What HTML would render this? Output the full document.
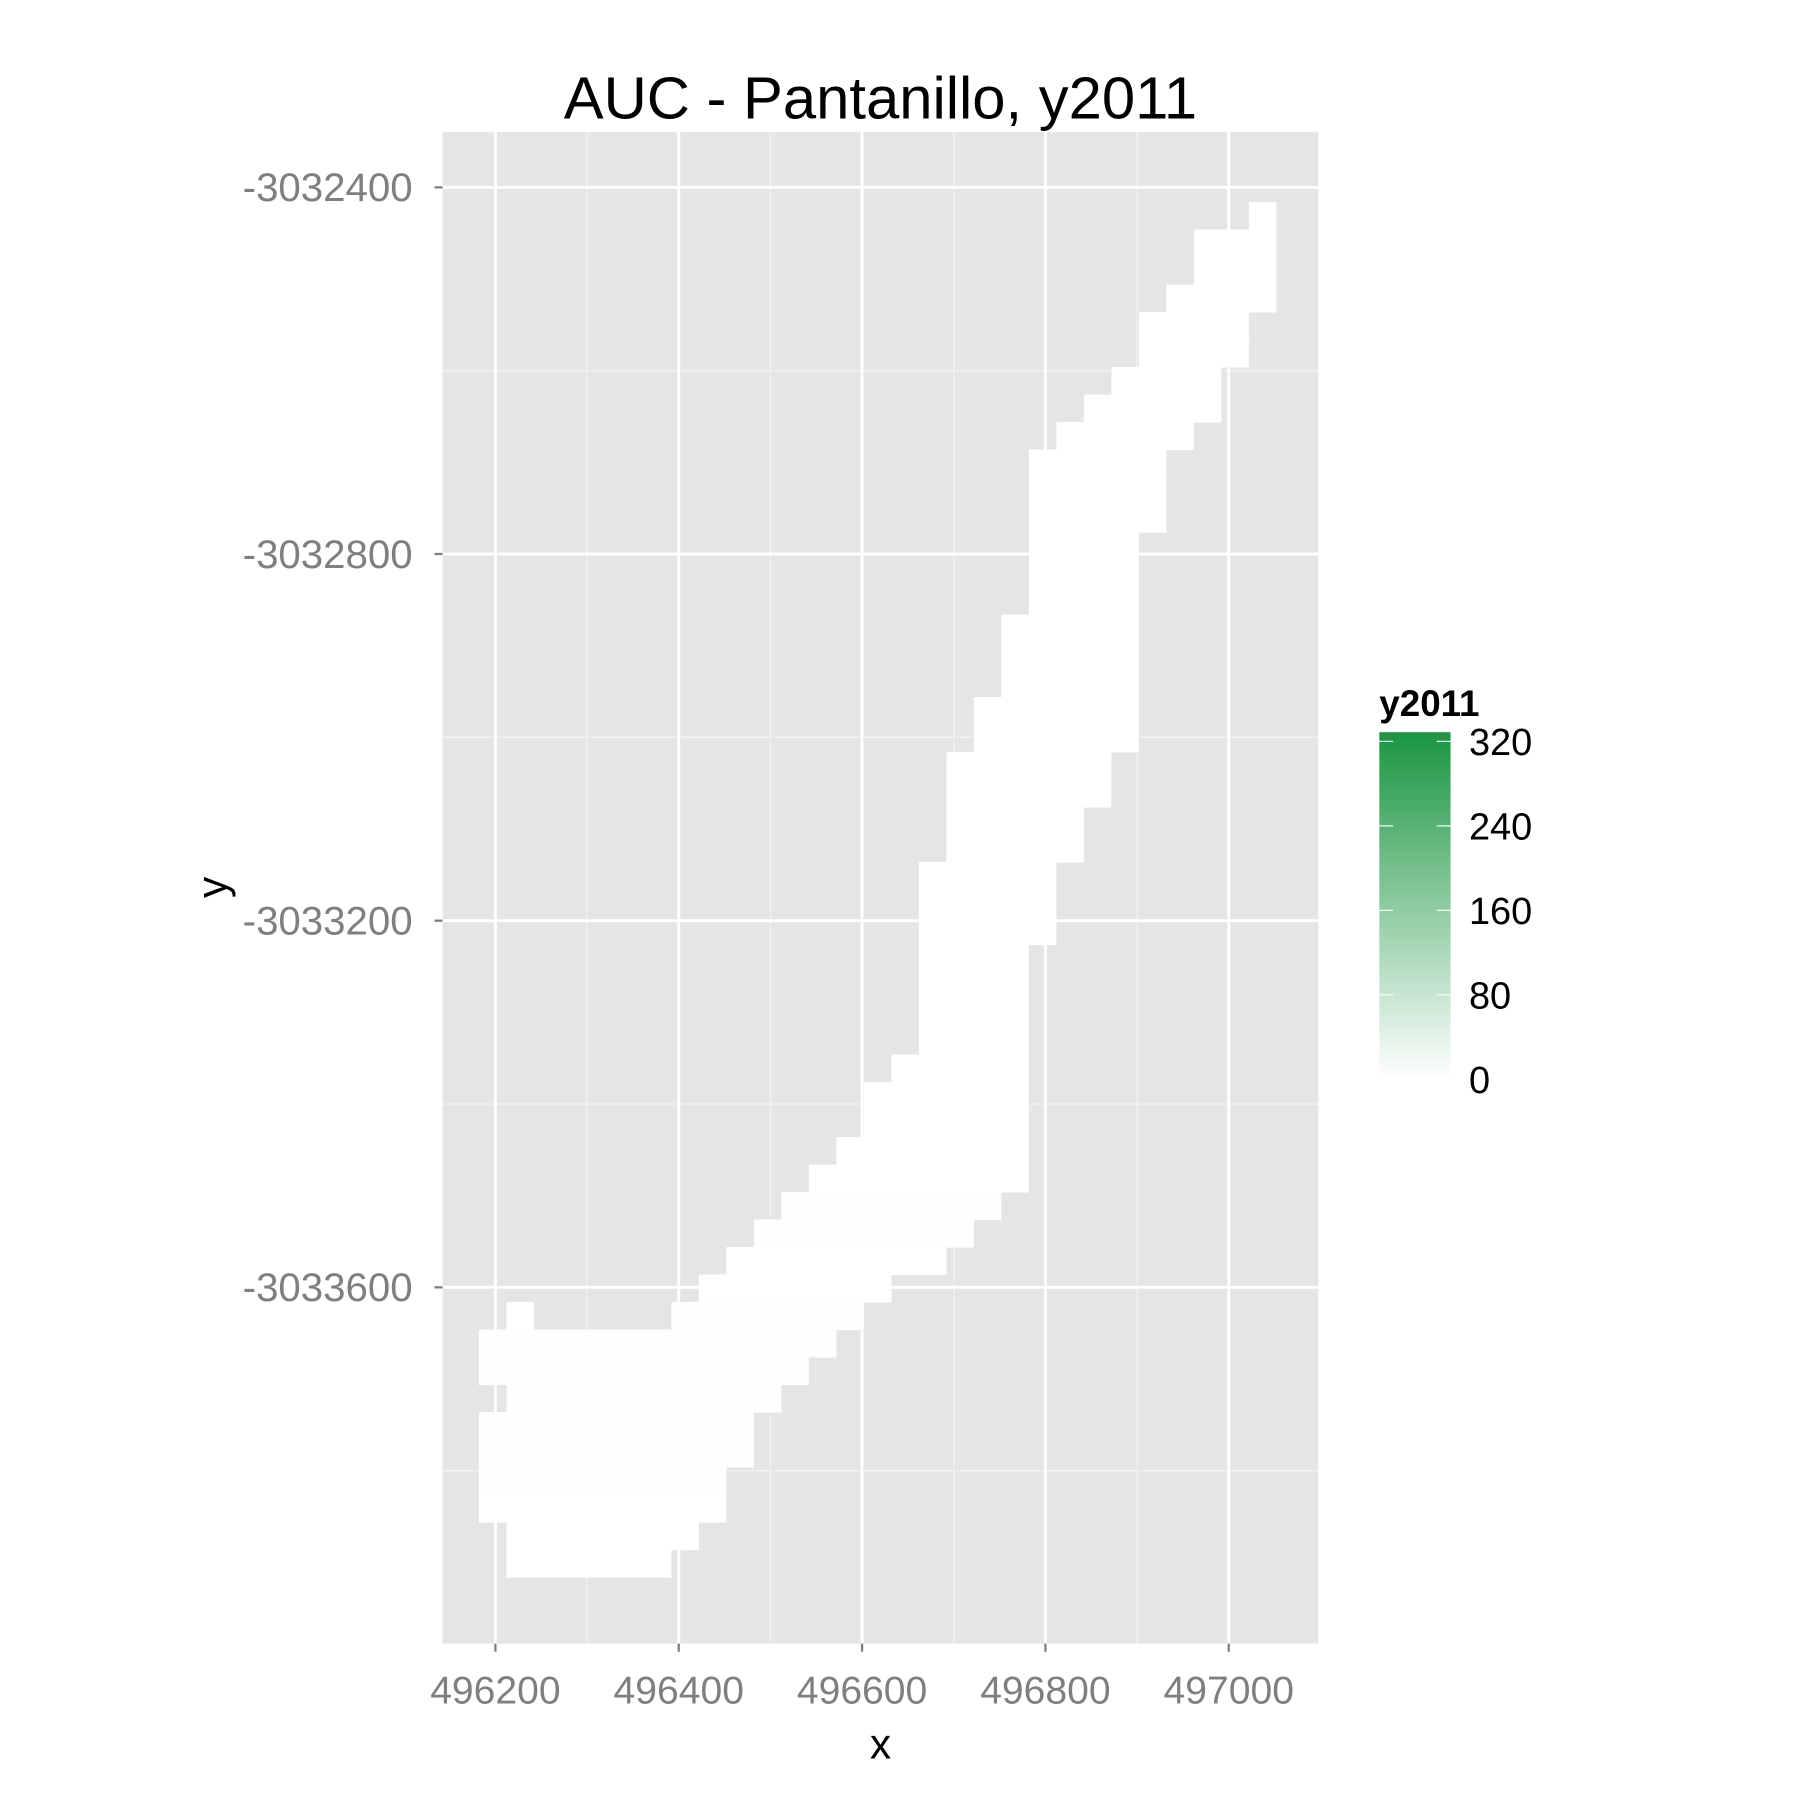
<!DOCTYPE html>
<html><head><meta charset="utf-8"><style>
html,body{margin:0;padding:0;background:#fff;width:1800px;height:1800px;overflow:hidden}
svg{display:block;font-family:"Liberation Sans",Arial,sans-serif}
</style></head><body>
<svg id="chart" width="1800" height="1800" viewBox="0 0 1566 1566" xmlns="http://www.w3.org/2000/svg">
<defs><linearGradient id="grad" x1="0" y1="1" x2="0" y2="0">
<stop offset="0" stop-color="#ffffff"/><stop offset="1" stop-color="#1a9641"/></linearGradient></defs>
<text x="766" y="103" font-size="52" text-anchor="middle" fill="#000">AUC - Pantanillo, y2011</text>
<rect x="385" y="115" width="762" height="1315" fill="#e5e5e5"/>
<g id="grid"></g>
<g id="cells"></g>
<g id="axes"></g>
<text x="766" y="1530" font-size="37" text-anchor="middle">x</text>
<text x="0" y="0" font-size="37" text-anchor="middle" transform="translate(197,772) rotate(-90)">y</text>
<g>
<text x="1200" y="623" font-size="32" font-weight="bold">y2011</text>
<rect x="1200" y="637" width="62" height="302" fill="url(#grad)"/>
<g id="legend-ticks"></g>
</g>
</svg>
<script>
// Data (x, y in map units; 30 m cells)
const rowIdx = [0,1,2,3,4,5,6,7,8,9,10,11,12,13,14,15,16,17,18,19,20,21,22,23,24,25,26,27,28,29,30,31,32,33,34,35,36,37,38,39,40,40,41,42,43,44,45,46,47,48,49];
const colStart = [28,26,26,25,24,24,23,22,21,20,20,20,20,20,20,19,19,19,18,18,17,17,17,17,16,16,16,16,16,16,16,15,14,14,13,12,11,10,9,8,7,1,0,0,1,0,0,0,0,1,1];
const colEnd = [29,29,29,29,28,28,27,27,26,25,25,25,24,24,24,24,24,24,24,24,23,23,22,22,21,21,21,20,20,20,20,20,20,20,20,20,19,18,17,15,14,2,13,12,11,10,10,9,9,8,7];
const rowValue = [0,0,0,0,0,0,0,0,1,1,1,0,0,0,0,0,0,0,0,0,0,0,0,0,0,0,0,0,0,0,0,0,0,0,1,1,2,2,1,1,2,1,2,2,3,3,3,2,1,1,0];
const xTicks = [496200,496400,496600,496800,497000];
const xMinor = [496300,496500,496700,496900];
const yTicks = [-3032400,-3032800,-3033200,-3033600];
const yMinor = [-3032600,-3033000,-3033400,-3033800];
const legendTicks = [0,80,160,240,320];

const X0 = 496182, Y0 = -3032416, CELL = 30, S = 0.7975;
const sx = v => 431 + (v - 496200) * S;
const sy = v => 163 + (-3032400 - v) * S;
const vmax = 331;
const ly = v => 939 - v / 320 * (939 - 645);
const NS = "http://www.w3.org/2000/svg";
function mk(tag, attrs, parent){const e=document.createElementNS(NS,tag);for(const k in attrs)e.setAttribute(k,attrs[k]);parent.appendChild(e);return e;}
const grid = document.getElementById('grid'), cells = document.getElementById('cells'), axes = document.getElementById('axes'), lt = document.getElementById('legend-ticks');
xMinor.forEach(v=>{const l=mk('line',{x1:sx(v),x2:sx(v),y1:115,y2:1430,stroke:'#f2f2f2','stroke-width':1.2},grid);

});
yMinor.forEach(v=>{const l=mk('line',{x1:385,x2:1147,y1:sy(v),y2:sy(v),stroke:'#f2f2f2','stroke-width':1.2},grid);

});
xTicks.forEach(v=>{const l=mk('line',{x1:sx(v),x2:sx(v),y1:115,y2:1430,stroke:'#fff','stroke-width':2.5},grid);


const t=mk('line',{x1:sx(v),x2:sx(v),y1:1430,y2:1437,stroke:'#7f7f7f','stroke-width':2},axes);


const tx=mk('text',{x:sx(v),y:1482,'font-size':34,'text-anchor':'middle',fill:'#7f7f7f'},axes);tx.textContent=v;

});
yTicks.forEach(v=>{const l=mk('line',{x1:385,x2:1147,y1:sy(v),y2:sy(v),stroke:'#fff','stroke-width':2.5},grid);


const t=mk('line',{x1:378,x2:385,y1:sy(v),y2:sy(v),stroke:'#7f7f7f','stroke-width':2},axes);


const tx=mk('text',{x:359,y:sy(v)+12,'font-size':35,'text-anchor':'end',fill:'#7f7f7f'},axes);tx.textContent=v;

});
function col(v){const f=Math.min(1,v/vmax);const r=Math.round(255+(26-255)*f),g=Math.round(255+(150-255)*f),b=Math.round(255+(65-255)*f);return `rgb(${r},${g},${b})`;}
rowIdx.forEach((r,i)=>{
  const xl=X0+colStart[i]*CELL, xr=X0+colEnd[i]*CELL, yt=Y0-r*CELL, yb=yt-CELL;
  const c=mk('rect',{x:sx(xl),y:sy(yt),width:sx(xr)-sx(xl),height:sy(yb)-sy(yt)+0.5,fill:col(rowValue[i])},cells);
  
  
});
legendTicks.forEach(v=>{
  const a=mk('line',{x1:1200,x2:1212,y1:ly(v),y2:ly(v),stroke:'#fff','stroke-width':1},lt);
  
  
  const b=mk('line',{x1:1250,x2:1262,y1:ly(v),y2:ly(v),stroke:'#fff','stroke-width':1},lt);
  
  
  const t=mk('text',{x:1278,y:ly(v)+12,'font-size':33,fill:'#000'},lt);t.textContent=v;
  
  
});
</script>
</body></html>
